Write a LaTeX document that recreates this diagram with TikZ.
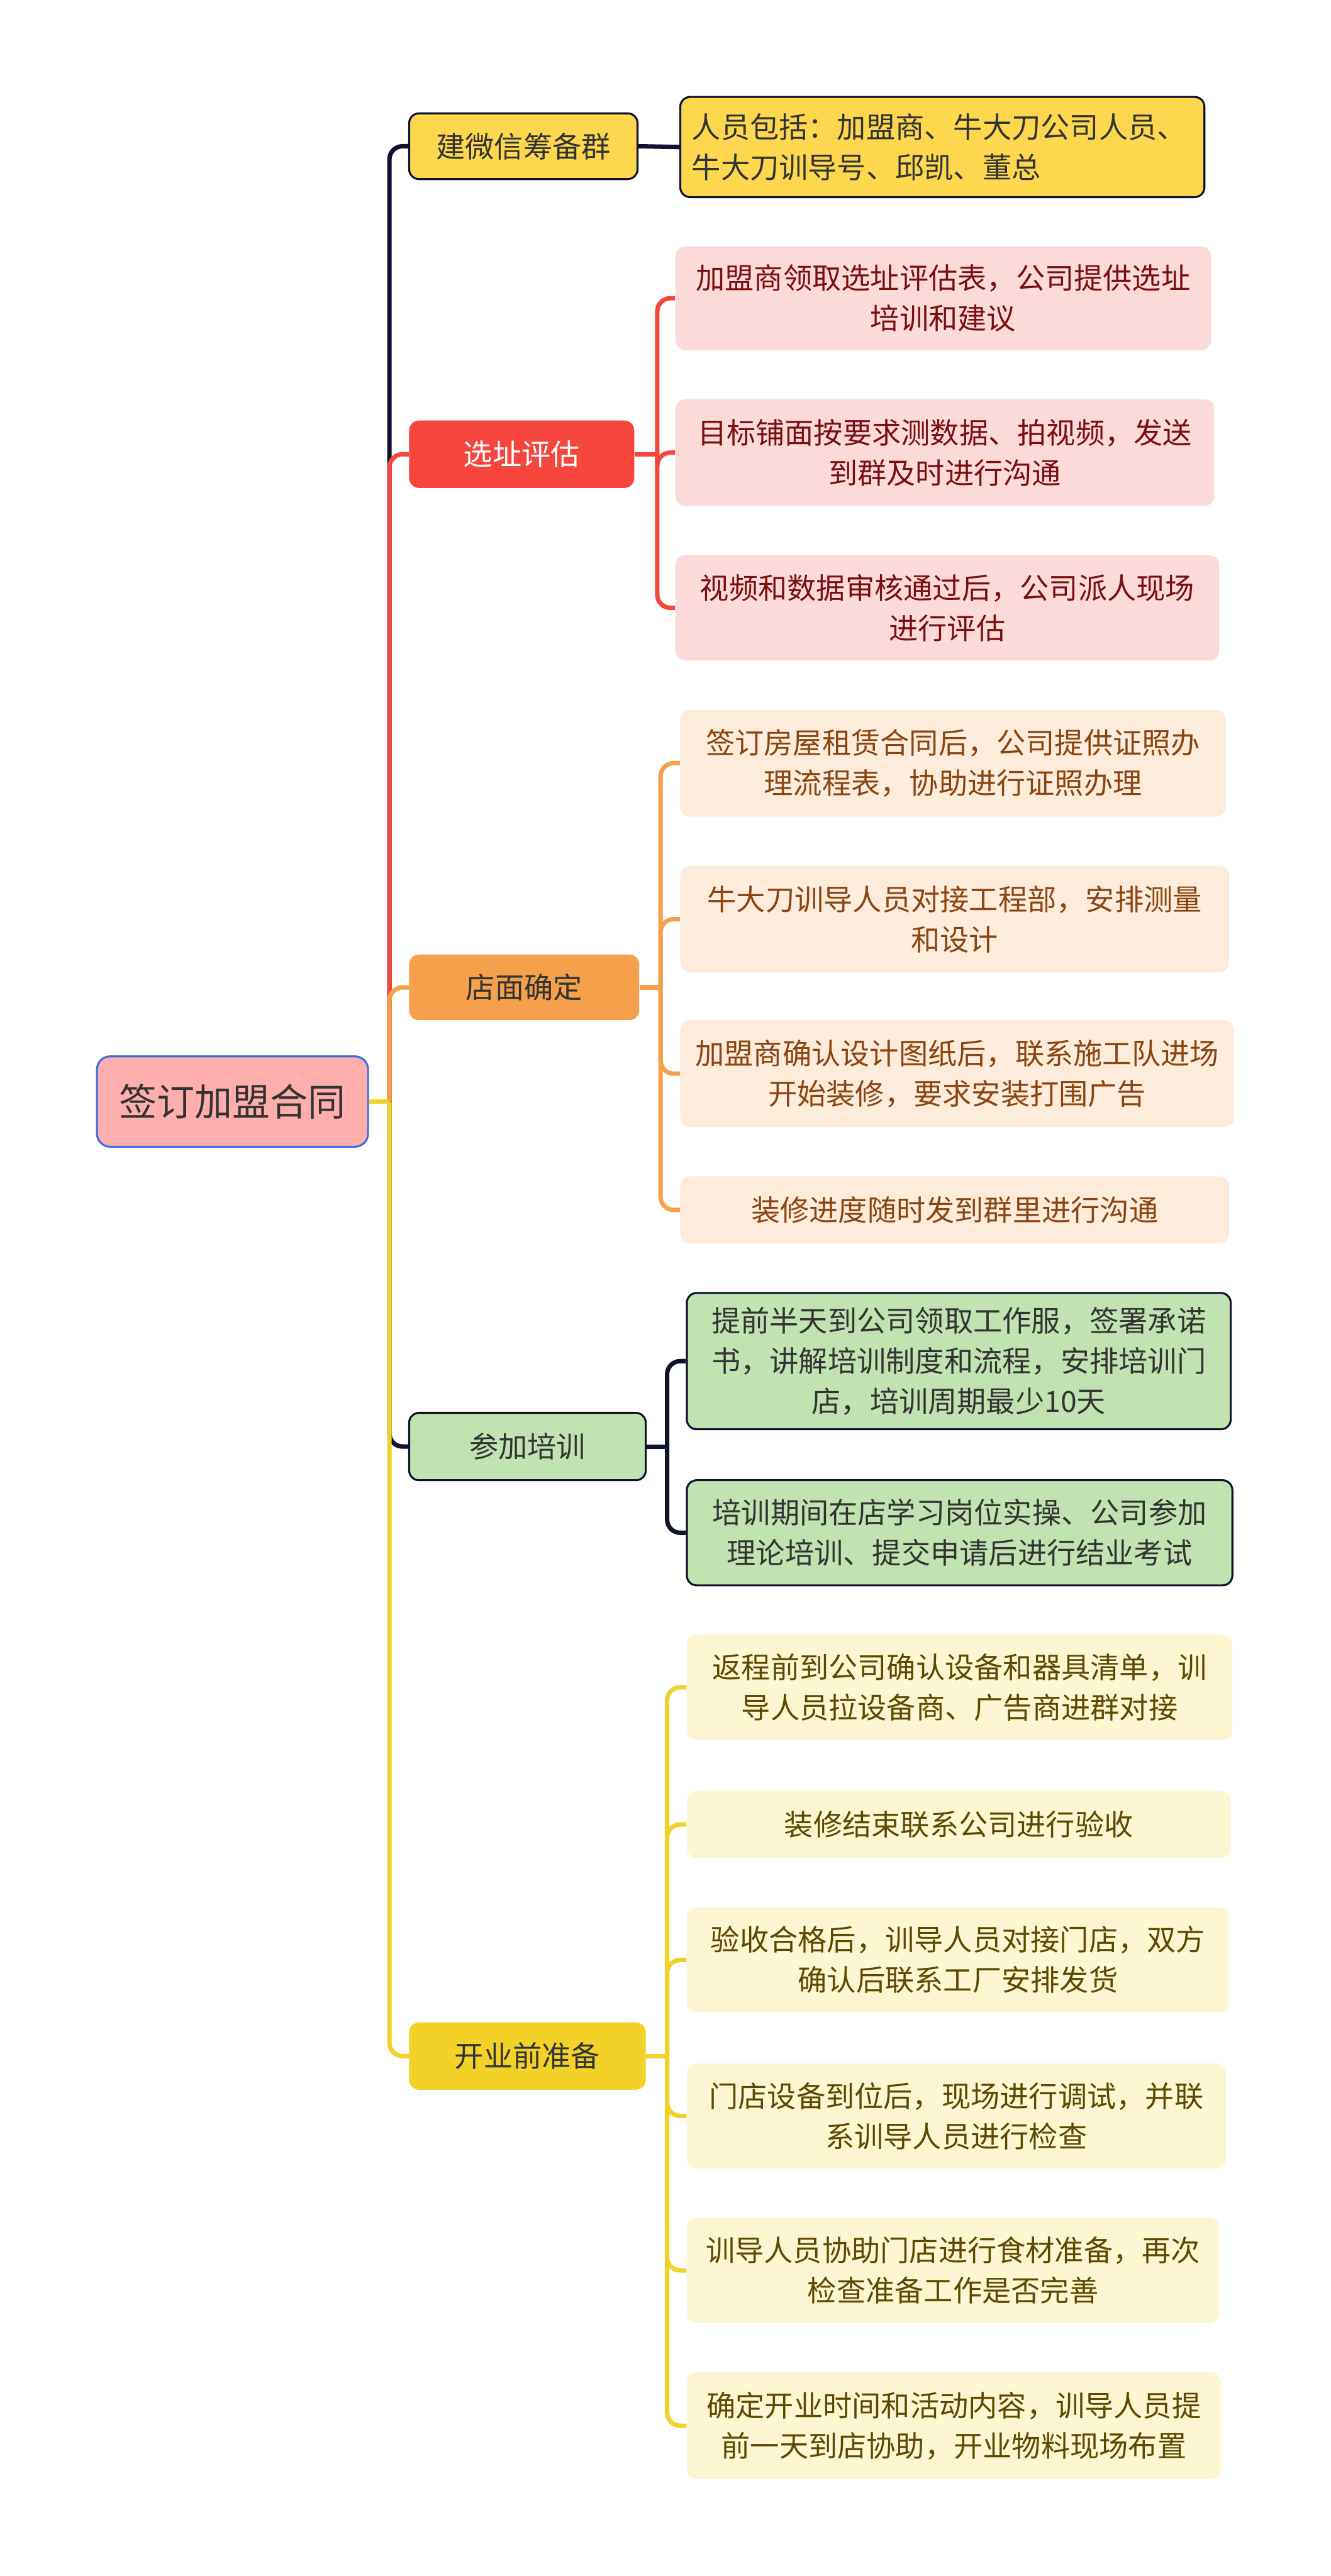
\documentclass[tikz,border=0pt]{standalone}
\usepackage{fontspec}
\setmainfont{Noto Sans CJK SC}
\definecolor{navy}{HTML}{10132E}
\definecolor{rootfill}{HTML}{FFAEAE}
\definecolor{rootline}{HTML}{3E6FD9}
\definecolor{txt}{HTML}{333333}
\definecolor{yfill}{HTML}{FDD84E}
\definecolor{redc}{HTML}{F5453D}
\definecolor{rleaf}{HTML}{FDDADA}
\definecolor{rtxt}{HTML}{7A0F0F}
\definecolor{orc}{HTML}{F5A04B}
\definecolor{oleaf}{HTML}{FDEBDC}
\definecolor{otxt}{HTML}{8A4510}
\definecolor{grc}{HTML}{C1E3B1}
\definecolor{ylc}{HTML}{F2D229}
\definecolor{yleaf}{HTML}{FCF6D3}
\definecolor{ytxt}{HTML}{5C4A00}
\tikzset{
  sz/.style 2 args={minimum width=#1pt, minimum height=#2pt},
  base/.style={rounded corners=6pt, inner sep=0pt, align=center, font=\fontsize{17.7}{24.5}\selectfont},
  rootbox/.style={base, rounded corners=8pt, fill=rootfill, draw=rootline, line width=1.2pt, text=txt, font=\fontsize{23}{28}\selectfont},
  darkbox/.style={base, draw=navy, line width=1.2pt, text=txt},
  redbranch/.style={base, fill=redc, text=white},
  redleaf/.style={base, fill=rleaf, text=rtxt},
  orbranch/.style={base, fill=orc, text=txt},
  orleaf/.style={base, fill=oleaf, text=otxt},
  grbox/.style={darkbox, fill=grc},
  ylbranch/.style={base, fill=ylc, text=txt},
  ylleaf/.style={base, fill=yleaf, text=ytxt},
  conn/.style={line width=2.7pt, rounded corners=8pt},
}
\begin{document}
\begin{tikzpicture}[x=1pt,y=-1pt]
\useasboundingbox (0,0) rectangle (810,1568);

% root and branches
\node[rootbox, sz={165}{55}] (root) at (141.5,670.5) {签订加盟合同};
\node[darkbox, fill=yfill, sz={139}{40}] (b1) at (318.5,89) {建微信筹备群};
\node[redbranch, sz={137}{41}] (b2) at (317.5,276.5) {选址评估};
\node[orbranch, sz={140}{40}] (b3) at (319,601) {店面确定};
\node[grbox, sz={144}{41}] (b4) at (321,880.5) {参加培训};
\node[ylbranch, sz={144}{41}] (b5) at (321,1251.5) {开业前准备};

% leaves
\node[darkbox, fill=yfill, text width=305pt, inner xsep=7pt, minimum height=61pt, align=left] (a1) at (573.5,89.5) {人员包括：加盟商、牛大刀公司人员、\\牛大刀训导号、邱凯、董总};

\node[redleaf, sz={326}{63}] (r1) at (574,181.5) {加盟商领取选址评估表，公司提供选址\\培训和建议};
\node[redleaf, sz={328}{65}] (r2) at (575,275.5) {目标铺面按要求测数据、拍视频，发送\\到群及时进行沟通};
\node[redleaf, sz={331}{64}] (r3) at (576.5,370) {视频和数据审核通过后，公司派人现场\\进行评估};

\node[orleaf, sz={332}{65}] (o1) at (580,464.5) {签订房屋租赁合同后，公司提供证照办\\理流程表，协助进行证照办理};
\node[orleaf, sz={334}{65}] (o2) at (581,559.5) {牛大刀训导人员对接工程部，安排测量\\和设计};
\node[orleaf, sz={337}{65}] (o3) at (582.5,653.5) {加盟商确认设计图纸后，联系施工队进场\\开始装修，要求安装打围广告};
\node[orleaf, sz={334}{41}] (o4) at (581,736.5) {装修进度随时发到群里进行沟通};

\node[grbox, sz={331}{83}] (g1) at (583.5,828.5) {提前半天到公司领取工作服，签署承诺\\书，讲解培训制度和流程，安排培训门\\店，培训周期最少10天};
\node[grbox, sz={332}{64}] (g2) at (584,933) {培训期间在店学习岗位实操、公司参加\\理论培训、提交申请后进行结业考试};

\node[ylleaf, sz={332}{64}] (y1) at (584,1027) {返程前到公司确认设备和器具清单，训\\导人员拉设备商、广告商进群对接};
\node[ylleaf, sz={331}{41}] (y2) at (583.5,1110.5) {装修结束联系公司进行验收};
\node[ylleaf, sz={330}{64}] (y3) at (583,1193) {验收合格后，训导人员对接门店，双方\\确认后联系工厂安排发货};
\node[ylleaf, sz={328}{64}] (y4) at (582,1288) {门店设备到位后，现场进行调试，并联\\系训导人员进行检查};
\node[ylleaf, sz={324}{64}] (y5) at (580,1382) {训导人员协助门店进行食材准备，再次\\检查准备工作是否完善};
\node[ylleaf, sz={325}{65}] (y6) at (580.5,1476.5) {确定开业时间和活动内容，训导人员提\\前一天到店协助，开业物料现场布置};

% trunk
\coordinate (t) at (237,670.5);
\begin{scope}[on background layer/.style={}]
\draw[conn, navy] (t) |- (b1.west);
\draw[conn, redc] (t) |- (b2.west);
\draw[conn, orc] (t) |- (b3.west);
\draw[conn, navy] (t) |- (b4.west);
\draw[conn, ylc] (t) |- (b5.west);
\draw[conn, ylc] (root.east) -- (t);
\end{scope}

% branch 1
\draw[conn, navy] (b1.east) -- (a1.west);

% branch 2
\coordinate (k2) at (400,276.5);
\draw[conn, redc] (b2.east) -- (k2);
\foreach \n in {r1,r2,r3} \draw[conn, redc] (k2) |- (\n.west);

% branch 3
\coordinate (k3) at (402,601);
\draw[conn, orc] (b3.east) -- (k3);
\foreach \n in {o1,o2,o3,o4} \draw[conn, orc] (k3) |- (\n.west);

% branch 4
\coordinate (k4) at (406,880.5);
\draw[conn, navy] (b4.east) -- (k4);
\foreach \n in {g1,g2} \draw[conn, navy] (k4) |- (\n.west);

% branch 5
\coordinate (k5) at (406,1251.5);
\draw[conn, ylc] (b5.east) -- (k5);
\foreach \n in {y1,y2,y3,y4,y5,y6} \draw[conn, ylc] (k5) |- (\n.west);
\end{tikzpicture}
\end{document}
